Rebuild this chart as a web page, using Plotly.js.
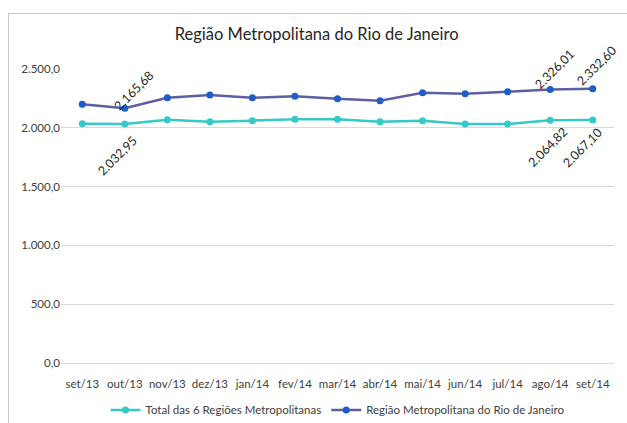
<!DOCTYPE html>
<html><head><meta charset="utf-8">
<script src="https://cdn.plot.ly/plotly-3.0.1.min.js"></script>
<style>
body{margin:0;padding:0;background:#fff;}
#wrap{position:relative;width:627px;height:423px;overflow:hidden;}
#frame{position:absolute;left:8px;top:13px;width:700px;height:500px;border:1px solid #c8c8c8;box-sizing:border-box;}
#chart{position:absolute;left:0;top:0;width:627px;height:423px;}
</style></head>
<body><div id="wrap"><div id="frame"></div><div id="chart"></div></div>
<script>
const months = ["set/13","out/13","nov/13","dez/13","jan/14","fev/14","mar/14","abr/14","mai/14","jun/14","jul/14","ago/14","set/14"];
const totalSeis = [2035, 2032.95, 2069, 2052, 2061, 2073, 2073, 2052, 2061, 2033, 2033, 2064.82, 2067.10];
const rioJaneiro = [2200, 2165.68, 2256, 2279, 2256, 2268, 2248, 2231, 2298, 2289, 2306, 2326.01, 2332.60];
const seriesNames = ["Total das 6 Regiões Metropolitanas", "Região Metropolitana do Rio de Janeiro"];
const chartTitle = "Região Metropolitana do Rio de Janeiro";
const labelMonths = ["out/13", "ago/14", "set/14"];

const fontFam = 'Lato, "DejaVu Sans Condensed", Arial, sans-serif';
function fmt(v){
  const s = v.toFixed(2).split(".");
  return s[0].replace(/\B(?=(\d{3})+(?!\d))/g, ".") + "," + s[1];
}
const traces = [
  {x: months, y: totalSeis, name: seriesNames[0], type: "scatter", mode: "lines+markers",
   line: {color: "#36C9C6", width: 2.5}, marker: {color: "#36C9C6", size: 7}},
  {x: months, y: rioJaneiro, name: seriesNames[1], type: "scatter", mode: "lines+markers",
   line: {color: "#5D5FA3", width: 2.5}, marker: {color: "#1E5CC8", size: 7}}
];
const rioShift = {"out/13": [9, 18], "ago/14": [4, 20], "set/14": [4, 23]};
const totShift = {"out/13": [-7, -32], "ago/14": [-3, -27], "set/14": [-10, -28]};
const annotations = [];
labelMonths.forEach(m => {
  const i = months.indexOf(m);
  annotations.push({x: m, y: rioJaneiro[i], text: fmt(rioJaneiro[i]), showarrow: false,
    textangle: -45, xshift: rioShift[m][0], yshift: rioShift[m][1],
    font: {family: fontFam, size: 12.5, color: "#262626"}});
  annotations.push({x: m, y: totalSeis[i], text: fmt(totalSeis[i]), showarrow: false,
    textangle: -45, xshift: totShift[m][0], yshift: totShift[m][1],
    font: {family: fontFam, size: 12.5, color: "#262626"}});
});
const layout = {
  width: 627, height: 423,
  paper_bgcolor: "rgba(0,0,0,0)", plot_bgcolor: "rgba(0,0,0,0)",
  separators: ",.",
  margin: {l: 61, r: 13, t: 69, b: 60, autoexpand: false},
  title: {text: chartTitle, x: 0.505, xanchor: "center", y: 0.92, yanchor: "middle",
    font: {family: fontFam, size: 16.5, color: "#262626"}},
  font: {family: fontFam, size: 12, color: "#404040"},
  xaxis: {type: "category", showgrid: false, zeroline: false, showline: false, ticks: "",
    ticklabelstandoff: 12,
    tickfont: {family: fontFam, size: 11.5, color: "#404040"}, range: [-0.5, 12.5]},
  yaxis: {range: [0, 2500], dtick: 500, tickformat: ",.1f", showgrid: true, gridcolor: "#d9d9d9",
    gridwidth: 1, zeroline: true, zerolinecolor: "#d9d9d9", zerolinewidth: 1,
    showline: false, ticks: "", ticklen: 0,
    tickfont: {family: fontFam, size: 11.5, color: "#404040"}},
  showlegend: true,
  legend: {orientation: "h", x: 0.5, xanchor: "center", yref: "container", y: 0.031, yanchor: "middle",
    font: {family: fontFam, size: 11.5, color: "#404040"}, itemwidth: 30, tracegroupgap: 0},
  annotations: annotations
};
Plotly.newPlot("chart", traces, layout, {displayModeBar: false, staticPlot: true});
</script></body></html>
